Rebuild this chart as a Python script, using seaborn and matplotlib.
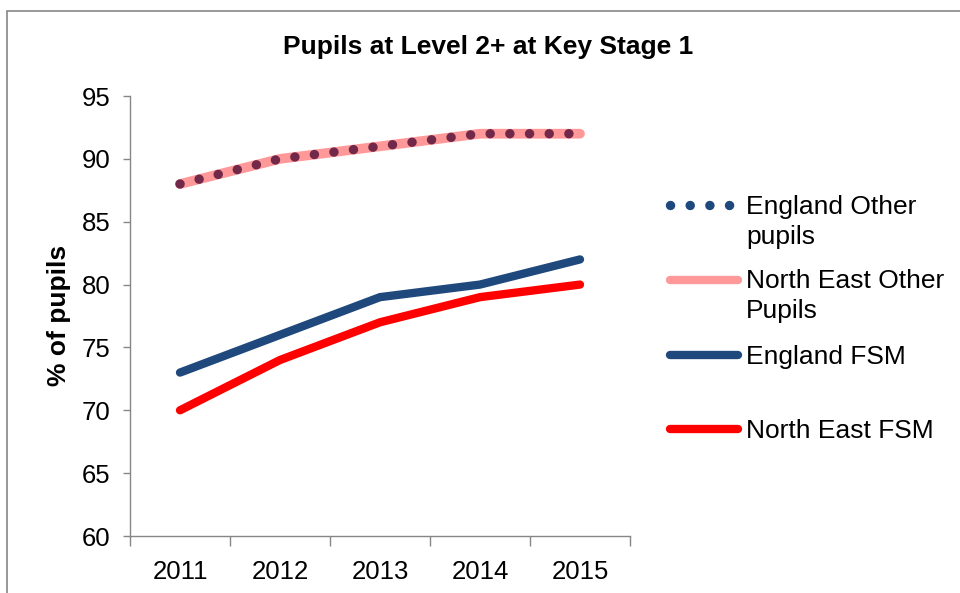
import matplotlib
matplotlib.use("Agg")
import matplotlib.pyplot as plt
from matplotlib.lines import Line2D
from matplotlib.patches import Rectangle
import seaborn as sns
import pandas as pd

years = [2011, 2012, 2013, 2014, 2015]
england_other = [88, 90, 91, 92, 92]
ne_other = [88, 90, 91, 92, 92]
england_fsm = [73, 76, 79, 80, 82]
ne_fsm = [70, 74, 77, 79, 80]

legend_lines = [["England Other", "pupils"], ["North East Other", "Pupils"], ["England FSM"], ["North East FSM"]]

sns.set_style("white")
plt.rcParams['font.family'] = ['Liberation Sans', 'DejaVu Sans']
plt.rcParams['text.color'] = 'black'
plt.rcParams['xtick.color'] = 'black'
plt.rcParams['ytick.color'] = 'black'

W, H = 960, 593
fig = plt.figure(figsize=(9.6, 5.93), dpi=100)
def fx(px): return px / W
def fy(py): return 1 - py / H

ax = fig.add_axes([fx(130), fy(536), fx(630) - fx(130), fy(96) - fy(536)])

df = pd.DataFrame({"year": years, "eo": england_other, "neo": ne_other,
                   "ef": england_fsm, "nef": ne_fsm})

DOT_LW = 6.8
DOT_DASH = (0.01, 14.1 / DOT_LW)

sns.lineplot(data=df, x="year", y="neo", ax=ax, color="#FF9999", lw=7,
             solid_capstyle="round", solid_joinstyle="round")
sns.lineplot(data=df, x="year", y="eo", ax=ax, color="#722848", lw=DOT_LW)
ax.lines[-1].set_dashes(DOT_DASH)
ax.lines[-1].set_dash_capstyle("round")
sns.lineplot(data=df, x="year", y="ef", ax=ax, color="#1F497D", lw=6,
             solid_capstyle="round", solid_joinstyle="round")
sns.lineplot(data=df, x="year", y="nef", ax=ax, color="#FF0000", lw=6,
             solid_capstyle="round", solid_joinstyle="round")

ax.set_xlim(years[0] - 0.5, years[-1] + 0.5)
ax.set_ylim(60, 95)
ax.set_yticks(range(60, 96, 5))
ax.set_xticks([y - 0.5 for y in years] + [years[-1] + 0.5])
ax.set_xticklabels([])
ax.set_xticks(years, minor=True)
ax.set_xticklabels([str(y) for y in years], minor=True)
ax.tick_params(axis="x", which="major", length=7, width=1, color="#868686", direction="out", bottom=True)
ax.tick_params(axis="x", which="minor", length=0, labelsize=18.5, pad=17)
ax.tick_params(axis="y", length=5, width=1, color="#868686", direction="out", left=True, labelsize=18.5, pad=9)
for lab in ax.get_xticklabels(minor=True) + ax.get_yticklabels():
    lab.set_color("black")
for s in ["top", "right"]:
    ax.spines[s].set_visible(False)
for s in ["left", "bottom"]:
    ax.spines[s].set_color("#868686")
    ax.spines[s].set_linewidth(1)
ax.set_xlabel("")
ax.set_ylabel("")
fig.text(fx(59), fy(315), "% of pupils", rotation=90, fontsize=19, fontweight="bold",
         ha="center", va="center", color="black")

fig.text(fx(488), fy(47), "Pupils at Level 2+ at Key Stage 1", fontsize=19,
         fontweight="bold", ha="center", va="center", color="black")

# outer frame
fig.add_artist(Rectangle((fx(7), fy(700)), 2, fy(11) - fy(700), transform=fig.transFigure,
                         fill=False, edgecolor="#868686", lw=1.2, clip_on=False))

# legend (manual)
hx0, hx1 = fx(670), fx(738)
hy = [205, 280, 355, 429]
fig.add_artist(Line2D([hx0, hx1], [fy(hy[0])] * 2, transform=fig.transFigure,
                      color="#1F497D", lw=DOT_LW, dashes=DOT_DASH, dash_capstyle="round"))
fig.add_artist(Line2D([hx0, hx1], [fy(hy[1])] * 2, transform=fig.transFigure,
                      color="#FF9999", lw=6, solid_capstyle="round"))
fig.add_artist(Line2D([hx0, hx1], [fy(hy[2])] * 2, transform=fig.transFigure,
                      color="#1F497D", lw=6, solid_capstyle="round"))
fig.add_artist(Line2D([hx0, hx1], [fy(hy[3])] * 2, transform=fig.transFigure,
                      color="#FF0000", lw=6, solid_capstyle="round"))
baselines = [[214, 244], [288, 318], [364], [438]]
for lines_, bls in zip(legend_lines, baselines):
    for t, b in zip(lines_, bls):
        fig.text(fx(746), fy(b), t, fontsize=19, ha="left", va="baseline", color="black")

fig.savefig("out.png", dpi=100)
